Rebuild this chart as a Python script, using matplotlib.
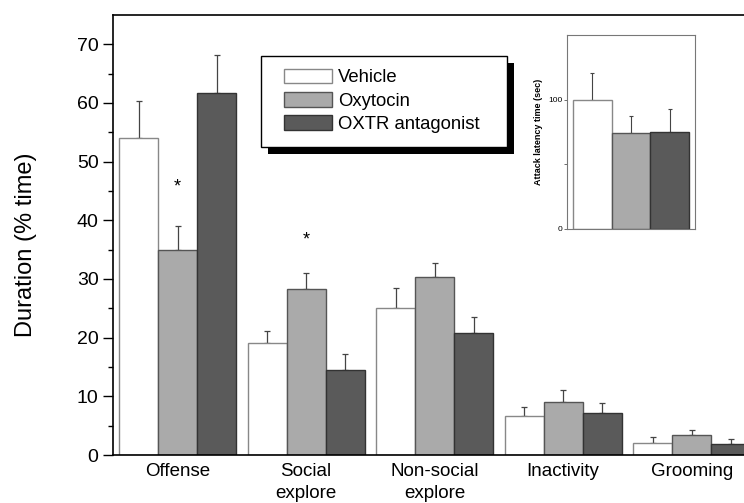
import numpy as np
import matplotlib
matplotlib.use("Agg")
import matplotlib.pyplot as plt
from matplotlib.patches import Rectangle

plt.rcParams["font.family"] = ["Liberation Sans", "DejaVu Sans"]

categories = ["Offense", "Social\nexplore", "Non-social\nexplore", "Inactivity", "Grooming"]
groups = ["Vehicle", "Oxytocin", "OXTR antagonist"]
vehicle = [54.0, 19.1, 25.1, 6.7, 2.0]
vehicle_err = [6.4, 2.1, 3.4, 1.4, 1.0]
oxytocin = [35.0, 28.3, 30.3, 9.0, 3.4]
oxytocin_err = [4.1, 2.8, 2.4, 2.0, 0.8]
oxtr = [61.7, 14.5, 20.8, 7.2, 1.9]
oxtr_err = [6.4, 2.7, 2.7, 1.7, 0.8]
star_y = [45.6, 36.6]  # significance marks above oxytocin bars (Offense, Social)

latency = [100.0, 74.0, 75.0]
latency_err = [21.0, 13.0, 17.5]

colors = ["white", "#aaaaaa", "#5a5a5a"]
edges = ["#888888", "#555555", "#333333"]

fig = plt.figure(figsize=(7.44, 5.03), dpi=100)
ax = fig.add_axes([0.152, 0.0954, 0.864, 0.875])

x = np.arange(len(categories))
w = 0.303
series = [(vehicle, vehicle_err), (oxytocin, oxytocin_err), (oxtr, oxtr_err)]
handles = []
for i, (vals, errs) in enumerate(series):
    pos = x + (i - 1) * w
    b = ax.bar(pos, vals, w, color=colors[i], edgecolor=edges[i], linewidth=1.0,
               label=groups[i], zorder=2)
    ax.errorbar(pos, vals, yerr=[np.zeros(len(vals)), errs], fmt="none",
                ecolor="#444444", elinewidth=0.9, capsize=2, capthick=0.9, zorder=1)
    handles.append(b)

for xi, yi in zip(x[:2], star_y):
    ax.text(xi, yi, "*", ha="center", va="center", fontsize=13)

ax.set_xlim(-0.502, 4.5)
ax.set_ylim(0, 75)
ax.set_yticks(np.arange(0, 71, 10))
ax.set_yticks(np.arange(5, 75, 10), minor=True)
ax.tick_params(axis="y", which="major", direction="out", length=7, width=1, labelsize=14)
ax.tick_params(axis="y", which="minor", direction="out", length=3.5, width=1)
ax.set_xticks(x)
ax.set_xticklabels(categories, fontsize=13.5, linespacing=1.35)
ax.tick_params(axis="x", length=0, pad=6)
ax.set_ylabel("Duration (% time)", fontsize=17)
ax.yaxis.set_label_coords(-0.118, 0.477)
for s in ax.spines.values():
    s.set_linewidth(1.2)

# legend (own frame + solid black drop shadow)
leg = ax.legend(handles=handles, loc="upper left", bbox_to_anchor=(0.249, 0.903),
                frameon=False, fontsize=13.3, handlelength=2.6, handleheight=0.85,
                handletextpad=0.3, labelspacing=0.3, borderpad=0.6, borderaxespad=0)
leg.set_zorder(6)
fig.canvas.draw()
bb = leg.get_window_extent()
x0, y0 = bb.x0 - 12, bb.y0 - 3
bw, bh = bb.width + 12 + 16, bb.height + 5
ax.add_artist(Rectangle((x0 + 7, y0 - 7), bw, bh, transform=None,
                        facecolor="black", edgecolor="none", zorder=4))
ax.add_artist(Rectangle((x0, y0), bw, bh, transform=None, facecolor="white",
                        edgecolor="black", linewidth=1.0, zorder=5))

# inset: attack latency
ins = fig.add_axes([567 / 744, 1 - 229 / 503, 128 / 744, 194 / 503])
xi = np.arange(3)
ins.bar(xi, latency, 1.0, color=colors, edgecolor=edges, linewidth=1.0, zorder=2)
ins.errorbar(xi, latency, yerr=[np.zeros(3), latency_err], fmt="none",
             ecolor="#444444", elinewidth=0.8, capsize=1.5, capthick=0.8, zorder=1)
ins.set_xlim(-0.65, 2.65)
ins.set_ylim(0, 150)
ins.set_yticks([0, 100])
ins.set_yticks([50], minor=True)
ins.set_xticks([])
ins.tick_params(axis="y", which="both", direction="out", length=2, width=0.6,
                labelsize=6, colors="#555555", pad=1)
ins.tick_params(axis="y", which="major", labelcolor="black")
ins.set_ylabel("Attack latency time (sec)", fontsize=6.5, fontweight="bold", labelpad=4)
for s in ins.spines.values():
    s.set_color("#777777")
    s.set_linewidth(0.8)

fig.savefig("out.png", dpi=100)
